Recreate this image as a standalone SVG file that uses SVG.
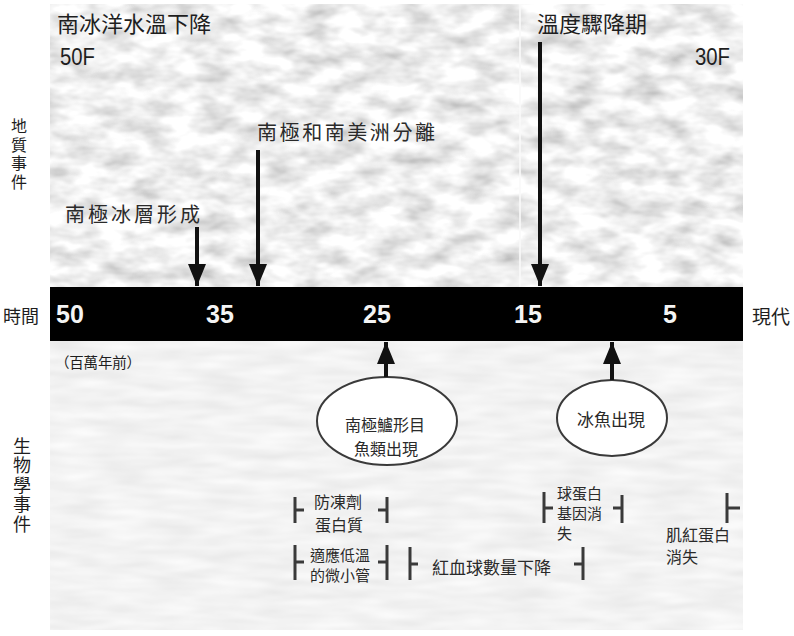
<svg xmlns="http://www.w3.org/2000/svg" width="794" height="636" viewBox="0 0 794 636">
<style>
.t{font-family:"Noto Sans CJK TC","Noto Sans CJK SC",sans-serif;fill:#1e1e1e}
.m{font-family:"Noto Sans CJK TC","Noto Sans CJK SC",serif;fill:#2a2a2a}
.num{font-family:"Liberation Sans",Arial,sans-serif;font-weight:bold;fill:#f4f4f4;font-size:25px;text-anchor:middle}
.f{font-family:"Liberation Sans",Arial,sans-serif;fill:#1e1e1e;font-size:23px}
.arr{stroke:#111;stroke-width:4;fill:none}
.br{stroke:#3a3a3a;stroke-width:3;fill:none}
.ell{fill:#fff;stroke:#3a3a3a;stroke-width:2}
.v{writing-mode:vertical-rl}
</style>
<defs>
<filter id="roughTop" x="50" y="4" width="693" height="283" filterUnits="userSpaceOnUse">
<feTurbulence type="fractalNoise" baseFrequency="0.03 0.06" numOctaves="3" seed="7"/>
<feColorMatrix type="matrix" values="0.85 0 0 0 0.44  0.85 0 0 0 0.44  0.85 0 0 0 0.44  0 0 0 0 1"/>
</filter>
<filter id="roughBot" x="50" y="341" width="693" height="289" filterUnits="userSpaceOnUse">
<feTurbulence type="fractalNoise" baseFrequency="0.02 0.1" numOctaves="2" seed="3"/>
<feColorMatrix type="matrix" values="0.2 0 0 0 0.79  0.2 0 0 0 0.79  0.2 0 0 0 0.79  0 0 0 0 1"/>
</filter>
<marker id="head" viewBox="0 0 22 18" refX="22" refY="9" markerWidth="22" markerHeight="18" markerUnits="userSpaceOnUse" orient="auto">
<path d="M0,0 L22,9 L0,18 Z" fill="#111"/>
</marker>
</defs>

<g id="background">
<rect x="50" y="4" width="693" height="283" fill="#e6e6e6" filter="url(#roughTop)"/>
<rect x="50" y="341" width="693" height="289" fill="#e4e4e4" filter="url(#roughBot)"/>
<line x1="520" y1="4" x2="520" y2="287" stroke="#fafafa" stroke-width="2" opacity="0.8"/>
</g>

<g id="timeline">
<rect x="50" y="287" width="693" height="54" fill="#000"/>
<text class="num" x="70" y="323">50</text>
<text class="num" x="220" y="323">35</text>
<text class="num" x="377" y="323">25</text>
<text class="num" x="528" y="323">15</text>
<text class="num" x="670" y="323">5</text>
</g>

<g id="labels">
<text class="t" x="3" y="323" font-size="18">時間</text>
<text class="t" x="752" y="324" font-size="19">現代</text>
<text class="t" x="55" y="368" font-size="14.5" textLength="86">（百萬年前）</text>
<text class="t v" x="19" y="118" font-size="16" letter-spacing="2.5">地質事件</text>
<text class="t v" x="22" y="437" font-size="18" letter-spacing="1.5">生物學事件</text>
</g>

<g id="temp-left">
<text class="t" x="57" y="32" font-size="22">南冰洋水溫下降</text>
<text class="f" x="60" y="65" textLength="35" lengthAdjust="spacingAndGlyphs">50F</text>
</g>
<g id="temp-right">
<text class="t" x="537" y="32" font-size="22">溫度驟降期</text>
<text class="f" x="695" y="65" textLength="35" lengthAdjust="spacingAndGlyphs">30F</text>
</g>
<g id="event-separation">
<text class="m" x="257" y="140" font-size="20" textLength="178">南極和南美洲分離</text>
</g>
<g id="event-icesheet">
<text class="m" x="65" y="222" font-size="20" textLength="135">南極冰層形成</text>
</g>

<g id="node-notothenioid">
<ellipse class="ell" cx="387" cy="421" rx="70" ry="44"/>
<text class="m" font-size="16" text-anchor="middle"><tspan x="385" y="431">南極鱸形目</tspan><tspan x="386" y="455">魚類出現</tspan></text>
</g>
<g id="node-icefish">
<ellipse class="ell" cx="612" cy="418" rx="55" ry="38"/>
<text class="m" x="611" y="426" font-size="17" text-anchor="middle">冰魚出現</text>
</g>

<g id="span-antifreeze">
<path class="br" d="M295,497 V523 M295,510 H304 M387,497 V523 M387,510 H378"/>
<text class="m" font-size="16" text-anchor="middle"><tspan x="338" y="508">防凍劑</tspan><tspan x="339" y="531">蛋白質</tspan></text>
</g>
<g id="span-microtubule">
<path class="br" d="M295,545 V580 M295,562 H304 M387,545 V580 M387,562 H378"/>
<text class="m" font-size="15" text-anchor="middle"><tspan x="340" y="561">適應低溫</tspan><tspan x="340" y="581">的微小管</tspan></text>
</g>
<g id="span-rbc">
<path class="br" d="M410,547 V580 M410,564 H418 M583,547 V580 M583,564 H574"/>
<text class="m" x="432" y="574" font-size="17">紅血球數量下降</text>
</g>
<g id="span-globin">
<path class="br" d="M544,492 V523 M544,508 H553 M622,495 V523 M622,508 H613"/>
<text class="m" font-size="15"><tspan x="557" y="499">球蛋白</tspan><tspan x="557" y="519">基因消</tspan><tspan x="557" y="539">失</tspan></text>
</g>
<g id="span-myoglobin">
<path class="br" d="M727,493 V523 M727,508 H740"/>
<text class="m" font-size="16"><tspan x="666" y="541">肌紅蛋白</tspan><tspan x="666" y="563">消失</tspan></text>
</g>

<g id="connectors">
<line class="arr" x1="197" y1="227" x2="197" y2="286" marker-end="url(#head)"/>
<line class="arr" x1="258" y1="150" x2="258" y2="286" marker-end="url(#head)"/>
<line class="arr" x1="540" y1="42" x2="540" y2="286" stroke-width="3.5" marker-end="url(#head)"/>
<line class="arr" x1="386" y1="377" x2="386" y2="342" marker-end="url(#head)"/>
<line class="arr" x1="612" y1="380" x2="612" y2="342" marker-end="url(#head)"/>
</g>
</svg>
